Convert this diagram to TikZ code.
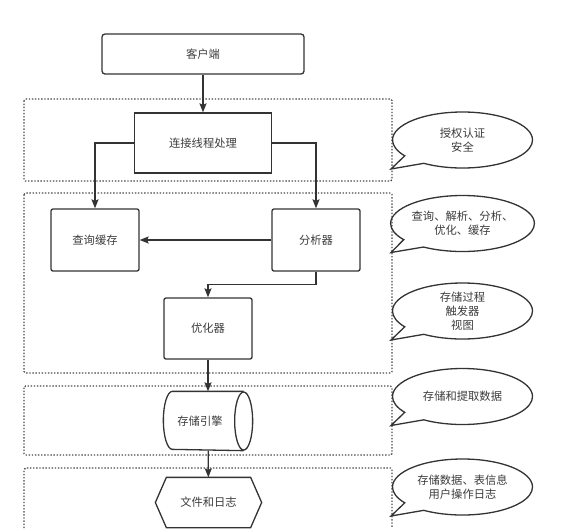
\documentclass[tikz,border=0pt]{standalone}
\usepackage{fontspec}
\setmainfont{Noto Sans CJK SC}
\usetikzlibrary{arrows.meta, calc, positioning, shapes.callouts}
\definecolor{lineGray}{HTML}{333333}
\definecolor{textGray}{HTML}{3C3C3C}
\definecolor{dotGray}{HTML}{4A4A4A}

\begin{document}
\begin{tikzpicture}[x=1pt, y=-1pt, line width=1.3pt, draw=lineGray,
    >={Stealth[length=9pt, width=7pt, inset=1.5pt]},
    box/.style={draw=lineGray, text=textGray, minimum width=88pt, minimum height=62pt,
        inner sep=0pt, font=\fontsize{11.3}{14}\selectfont},
    layer/.style={draw=dotGray, line width=1.4pt, dash pattern=on 1.4pt off 1.7pt, rounded corners=1.5pt},
    note/.style={ellipse callout, draw=lineGray, text=textGray, minimum width=140pt, minimum height=56pt,
        inner sep=0pt, align=center, callout pointer arc=22,
        font=\fontsize{11.3}{14}\selectfont}]
    \useasboundingbox (0,0) rectangle (588,528);

    % dotted layers
    \draw[layer] (24,99) rectangle (392,181);
    \draw[layer] (24,193) rectangle (392,373);
    \draw[layer] (24,386) rectangle (392,455);
    \draw[layer] (24,528) -- (24,468) -- (392,468) -- (392,528);

    % boxes
    \node[box, rounded corners=3pt, minimum width=202pt, minimum height=40pt] (client) at (203,54) {客户端};
    \node[box, minimum width=137pt, minimum height=60pt] (conn) at (203,143) {连接线程处理};
    \node[box, rounded corners=2pt] (cache) at (95,240) {查询缓存};
    \node[box, rounded corners=2pt] (parser) at (316,240) {分析器};
    \node[box, rounded corners=2pt, minimum height=61pt] (optimizer) at (208,328.5) {优化器};

    % storage engine (cylinder)
    \node[box, draw=none, minimum height=58pt] (engine) at (208,421) {};
    \node[text=textGray, font=\fontsize{11.3}{14}\selectfont] (engineText) at (200,421) {存储引擎};
    \draw ($(engine.north east)+(-9,0)$) -- ($(engine.north west)+(9,0)$)
        arc[start angle=270, end angle=90, x radius=9, y radius=29] -- ($(engine.south east)+(-9,0)$);
    \draw ($(engine.east)+(-9,0)$) ellipse[x radius=9, y radius=29];

    % files (hexagon)
    \node[box, draw=none, minimum width=105pt, minimum height=49pt] (files) at (208.5,502.5) {文件和日志};
    \draw (files.west) -- ($(files.north west)+(11,0)$) -- ($(files.north east)+(-11,0)$) -- (files.east)
        -- ($(files.south east)+(-11,0)$) -- ($(files.south west)+(11,0)$) -- cycle;

    % connectors
    \draw[->] (client) -- (conn);
    \draw[->] (conn.west) -| (cache.north);
    \draw[->] (conn.east) -| (parser.north);
    \draw[->] (parser.west) -- (cache.east);
    \draw[->] (parser.south) -- ++(0,13) -| (optimizer.north);
    \draw[->] (optimizer) -- (engine);
    \draw[->] (engine) -- (files);

    % notes
    \node[note, callout absolute pointer={(391,169)}] (auth) at (462.5,140) {授权认证\\安全};
    \node[note, callout absolute pointer={(391,252.5)}] (query) at (462.5,223.5) {查询、解析、分析、\\优化、缓存};
    \node[note, callout absolute pointer={(391,340)}] (proc) at (462.5,311) {存储过程\\触发器\\视图};
    \node[note, callout absolute pointer={(391,425.5)}] (store) at (462.5,396.5) {存储和提取数据};
    \node[note, callout absolute pointer={(391,516)}] (data) at (462.5,487) {存储数据、表信息\\用户操作日志};
\end{tikzpicture}
\end{document}
